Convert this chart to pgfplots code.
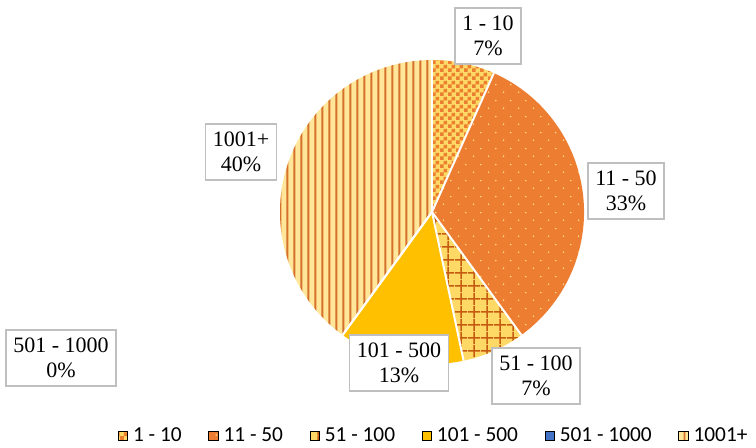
\documentclass[border=0pt]{standalone}
\usepackage{pgfplots}
\pgfplotsset{compat=1.18}
\usepackage{pgfplotstable}
\usetikzlibrary{patterns}
\usepackage{fontspec}
\setmainfont{Liberation Serif}
\newfontfamily\legendfont{Carlito}

\definecolor{cOrange}{HTML}{ED7D31}
\definecolor{cDark}{HTML}{C55A11}
\definecolor{cYellow}{HTML}{FFD966}
\definecolor{cPale}{HTML}{FFE699}
\definecolor{cGold}{HTML}{FFC000}
\definecolor{cBlue}{HTML}{4472C4}
\definecolor{cBox}{HTML}{BFBFBF}

% fill patterns (1 px of the reference = 0.75pt)
\pgfdeclarepatternformonly{checker}{\pgfpointorigin}{\pgfqpoint{6pt}{6pt}}{\pgfqpoint{6pt}{6pt}}{%
  \pgfpathrectangle{\pgfpointorigin}{\pgfqpoint{3pt}{3pt}}%
  \pgfpathrectangle{\pgfqpoint{3pt}{3pt}}{\pgfqpoint{3pt}{3pt}}%
  \pgfusepath{fill}}
\pgfdeclarepatternformonly{sparsedots}{\pgfpointorigin}{\pgfqpoint{11pt}{12pt}}{\pgfqpoint{11pt}{12pt}}{%
  \pgfpathcircle{\pgfqpoint{2.75pt}{3pt}}{0.65pt}%
  \pgfpathcircle{\pgfqpoint{8.25pt}{9pt}}{0.65pt}%
  \pgfusepath{fill}}
\pgfdeclarepatternformonly{grid13}{\pgfpointorigin}{\pgfqpoint{9.75pt}{9.75pt}}{\pgfqpoint{9.75pt}{9.75pt}}{%
  \pgfsetlinewidth{1.2pt}%
  \pgfpathmoveto{\pgfqpoint{0pt}{4.875pt}}\pgfpathlineto{\pgfqpoint{9.75pt}{4.875pt}}%
  \pgfpathmoveto{\pgfqpoint{4.875pt}{0pt}}\pgfpathlineto{\pgfqpoint{4.875pt}{9.75pt}}%
  \pgfusepath{stroke}}
\pgfdeclarepatternformonly{vstripes}{\pgfpointorigin}{\pgfqpoint{5.5pt}{4pt}}{\pgfqpoint{5.5pt}{4pt}}{%
  \pgfsetlinewidth{1.5pt}%
  \pgfpathmoveto{\pgfqpoint{2.75pt}{0pt}}\pgfpathlineto{\pgfqpoint{2.75pt}{4pt}}%
  \pgfusepath{stroke}}

\tikzset{
  s0/.style={fill=cYellow, postaction={pattern=checker, pattern color=cOrange}},
  s1/.style={fill=cOrange, postaction={pattern=sparsedots, pattern color=cYellow!70!white}},
  s2/.style={fill=cYellow, postaction={pattern=grid13, pattern color=cDark}},
  s3/.style={fill=cGold},
  s4/.style={fill=cBlue},
  s5/.style={fill=cPale, postaction={pattern=vstripes, pattern color=cOrange!90!black}},
  lbl/.style={draw=cBox, line width=1pt, fill=white, align=center,
    inner xsep=5.5pt, inner ysep=6pt, font=\fontsize{16.5}{18.75}\selectfont},
}

% respondents per size class; lx, ly = label box centre (pixels from top left)
\pgfplotstableread{
range count lx ly
{1 - 10} 1 488 36
{11 - 50} 5 626 191
{51 - 100} 1 536 376
{101 - 500} 2 399 363
{501 - 1000} 0 61 358
{1001+} 6 241 152
}\piedata

\begin{document}
\begin{tikzpicture}
\begin{axis}[
  name=pie,
  scale only axis, width=567pt, height=335.25pt,
  xmin=0, xmax=756, ymin=0, ymax=447,
  hide axis, clip=false,
  legend columns=6,
  legend style={at={(axis cs:434,11)}, anchor=center, draw=none, fill=none,
    font=\legendfont\fontsize{16}{18}\selectfont,
    /tikz/every odd column/.append style={column sep=2pt},
    /tikz/every even column/.append style={column sep=18pt}},
  legend image code/.code={\path[#1] (0pt,-3.5pt) rectangle (7pt,3.5pt);},
]
\pgfplotstablegetrowsof{\piedata}
\pgfmathtruncatemacro\lastrow{\pgfplotsretval-1}
\def\total{0}
\pgfplotsforeachungrouped \i in {0,...,\lastrow}{%
  \pgfplotstablegetelem{\i}{count}\of\piedata
  \pgfmathsetmacro\total{\total+\pgfplotsretval}%
}
% wedges, clockwise from 12 o'clock
\def\angA{90}
\pgfplotsforeachungrouped \i in {0,...,\lastrow}{%
  \pgfplotstablegetelem{\i}{count}\of\piedata
  \let\cnt\pgfplotsretval
  \pgfmathsetmacro\angB{\angA-360*\cnt/\total}%
  \ifdim\cnt pt>0pt
    \edef\tmp{\noexpand\fill[s\i] (axis cs:432,235) -- ++(\angA:114pt)
      arc[start angle=\angA, end angle=\angB, radius=114pt] -- cycle;}%
    \tmp
  \fi
  \let\angA\angB
}
% white separators
\def\angA{90}
\pgfplotsforeachungrouped \i in {0,...,\lastrow}{%
  \pgfplotstablegetelem{\i}{count}\of\piedata
  \let\cnt\pgfplotsretval
  \edef\tmp{\noexpand\draw[white, line width=1.5pt] (axis cs:432,235) -- ++(\angA:114pt);}%
  \tmp
  \pgfmathsetmacro\angA{\angA-360*\cnt/\total}%
}
% data labels and legend
\pgfplotsforeachungrouped \i in {0,...,\lastrow}{%
  \pgfplotstablegetelem{\i}{range}\of\piedata \let\rng\pgfplotsretval
  \pgfplotstablegetelem{\i}{count}\of\piedata \let\cnt\pgfplotsretval
  \pgfplotstablegetelem{\i}{lx}\of\piedata \let\lx\pgfplotsretval
  \pgfplotstablegetelem{\i}{ly}\of\piedata \let\ly\pgfplotsretval
  \pgfmathtruncatemacro\pct{round(100*\cnt/\total)}%
  \edef\tmp{\noexpand\node[lbl] at (axis cs:\lx,{447-\ly}) {\rng\noexpand\\\pct\noexpand\%};%
    \noexpand\addlegendimage{s\i}\noexpand\addlegendentry{\rng}}%
  \tmp
}
\end{axis}
\pgfresetboundingbox
\path[use as bounding box] (pie.south west) rectangle (pie.north east);
\end{tikzpicture}
\end{document}
